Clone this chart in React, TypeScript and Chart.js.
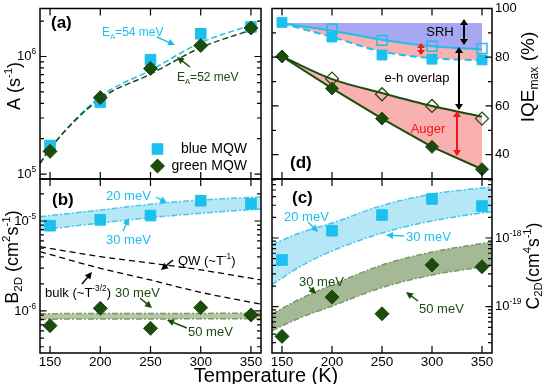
import React, { useEffect, useRef } from 'react';
import { Chart, registerables } from 'chart.js';
Chart.register(...registerables);

// ---------- data ----------
const TEMPS = [150, 200, 250, 300, 350];
const X_TICKS = [150, 200, 250, 300, 350];
const X_TICK_LABELS = ['150', '200', '250', '300', '350'];

// (a) A coefficient
const A_BLUE = [1.75e5, 4.1e5, 9.4e5, 1.56e6, 1.78e6];
const A_GREEN = [1.56e5, 4.47e5, 7.9e5, 1.24e6, 1.75e6];
const A_FIT_T = [140, 150, 200, 250, 300, 350];
const A_FIT_BLUE = [1.23e5, 1.65e5, 4.55e5, 7.64e5, 1.31e6, 1.85e6];
const A_FIT_GREEN = [1.23e5, 1.65e5, 4.38e5, 7.08e5, 1.19e6, 1.68e6];
const A_MAJOR = [1e5, 1e6];
const A_MAJOR_LABELS = ['10^{5}', '10^{6}'];
const A_MINOR = [2e5, 3e5, 4e5, 5e5, 6e5, 7e5, 8e5, 9e5, 2e6];

// (b) B2D
const B_BLUE = [8.87e-6, 1.03e-5, 1.15e-5, 1.68e-5, 1.55e-5];
const B_GREEN = [6.87e-7, 1.07e-6, 6.41e-7, 1.09e-6, 9.03e-7];
const B_BAND_T = [140, 200, 250, 300, 360];
const B_BLUE_20 = [1.117e-5, 1.325e-5, 1.535e-5, 1.71e-5, 1.85e-5];
const B_BLUE_30 = [7.94e-6, 9.5e-6, 1.09e-5, 1.22e-5, 1.36e-5];
const B_GREEN_30 = [9.3e-7, 9.4e-7, 9.4e-7, 9.4e-7, 9.45e-7];
const B_GREEN_50 = [8.1e-7, 8.15e-7, 8.15e-7, 8.2e-7, 8.2e-7];
const B_LINE_T = [140, 200, 250, 300, 360];
const B_QW = [5.18e-6, 4.02e-6, 3.41e-6, 2.86e-6, 2.21e-6];
const B_BULK = [4.56e-6, 2.98e-6, 2.21e-6, 1.61e-6, 1.19e-6];
const B_MAJOR = [1e-6, 1e-5];
const B_MAJOR_LABELS = ['10^{-6}', '10^{-5}'];
const B_MINOR = [4e-7, 5e-7, 6e-7, 7e-7, 8e-7, 9e-7, 2e-6, 3e-6, 4e-6, 5e-6, 6e-6, 7e-6, 8e-6, 9e-6, 2e-5];

// (c) C2D
const C_BLUE = [4.79e-19, 1.277e-18, 2.16e-18, 3.7e-18, 2.92e-18];
const C_GREEN = [3.7e-20, 1.38e-19, 7.9e-20, 4.05e-19, 3.82e-19];
const C_BAND_T = [140, 170, 200, 250, 300, 350, 360];
const C_BLUE_20 = [8.0e-19, 1.22e-18, 1.65e-18, 2.97e-18, 4.37e-18, 5.34e-18, 5.52e-18];
const C_BLUE_30 = [2.1e-19, 3.98e-19, 6.47e-19, 1.18e-18, 1.77e-18, 2.31e-18, 2.39e-18];
const C_GREEN_30 = [7.83e-20, 1.34e-19, 2.07e-19, 4.05e-19, 6.25e-19, 8.32e-19, 8.75e-19];
const C_GREEN_50 = [4.51e-20, 7.08e-20, 1.02e-19, 1.9e-19, 2.89e-19, 3.79e-19, 3.98e-19];
const C_MAJOR = [1e-19, 1e-18];
const C_MAJOR_LABELS = ['10^{-19}', '10^{-18}'];
const C_MINOR = [3e-20, 4e-20, 5e-20, 6e-20, 7e-20, 8e-20, 9e-20, 2e-19, 3e-19, 4e-19, 5e-19, 6e-19, 7e-19, 8e-19, 9e-19, 2e-18, 3e-18, 4e-18, 5e-18, 6e-18, 7e-18];

// (d) IQE max
const D_BLUE_FILLED = [94.3, 88.3, 80.9, 79.2, 78.9];
const D_OPEN_T = [200, 250, 300, 350];
const D_BLUE_OPEN = [91.6, 86.9, 84.5, 83.6];
const D_BLUE_SOLID = [93.9, 90.9, 87.2, 84.5, 83.2];
const D_BLUE_DASHED = [93.9, 88.3, 82.3, 79.6, 78.7];
const D_SRH_TOP = [94, 94, 94, 94, 94];
const D_GREEN_FILLED = [80.3, 67.2, 54.8, 43.2, 34.0];
const D_GREEN_OPEN = [71.2, 64.8, 60.0, 54.8];
const D_GREEN_UPPER = [80.3, 71.0, 65.3, 60.0, 55.6];
const D_MAJOR = [40, 60, 80, 100];
const D_MAJOR_LABELS = ['40', '60', '80', '100'];
const D_MINOR = [50, 70, 90];

// ---------- styles ----------
const W = 542;
const H = 384;
const FONT = '"Liberation Sans", Arial, Helvetica, sans-serif';
const CYAN = '#1cc0ee';
const GREEN = '#1b4c0e';
const CYAN_BAND = '#b6e7f6';
const CYAN_EDGE = '#45c6ec';
const GREEN_BAND_B = '#b4c8a4';
const GREEN_BAND_C = '#a6b996';
const GREEN_EDGE = '#7a9868';
const LAVENDER = '#a8a8f2';
const PINK = '#f8b0b1';
const RED = '#f01818';
const TICK_FONT = 13;

const pts = (xs: number[], ys: number[]) => xs.map((x, i) => ({ x, y: ys[i] }));

function parseRich(s: string) {
  const segs: { t: string; k: number }[] = [];
  const re = /([\^_])\{([^}]*)\}/g;
  let last = 0;
  let m: RegExpExecArray | null;
  while ((m = re.exec(s))) {
    if (m.index > last) segs.push({ t: s.slice(last, m.index), k: 0 });
    segs.push({ t: m[2], k: m[1] === '^' ? 1 : -1 });
    last = re.lastIndex;
  }
  if (last < s.length) segs.push({ t: s.slice(last), k: 0 });
  return segs;
}

function drawRich(ctx: CanvasRenderingContext2D, s: string, x: number, y: number, o: any) {
  const size = o.size || 13;
  const segs = parseRich(s);
  const fontFor = (k: number) => `${o.bold ? 'bold ' : ''}${k ? size * 0.64 : size}px ${FONT}`;
  let total = 0;
  const widths = segs.map((sg) => {
    ctx.font = fontFor(sg.k);
    const w = ctx.measureText(sg.t).width;
    total += w;
    return w;
  });
  ctx.save();
  ctx.translate(x, y);
  if (o.rotate) ctx.rotate((o.rotate * Math.PI) / 180);
  const align = o.align || 'left';
  let cx = align === 'left' ? 0 : align === 'right' ? -total : -total / 2;
  ctx.textBaseline = 'middle';
  ctx.textAlign = 'left';
  ctx.fillStyle = o.color || '#000';
  segs.forEach((sg, i) => {
    ctx.font = fontFor(sg.k);
    const dy = sg.k === 1 ? -size * 0.36 : sg.k === -1 ? size * 0.3 : 0;
    ctx.fillText(sg.t, cx, dy);
    cx += widths[i];
  });
  ctx.restore();
}

function drawArrow(ctx: CanvasRenderingContext2D, a: any) {
  const { x1, y1, x2, y2 } = a;
  const color = a.color || '#000';
  const hl = a.hl || 7;
  const hw = a.hw || 3.5;
  const ang = Math.atan2(y2 - y1, x2 - x1);
  const head = (x: number, y: number, an: number) => {
    ctx.beginPath();
    ctx.moveTo(x, y);
    ctx.lineTo(x - hl * Math.cos(an) + hw * Math.sin(an), y - hl * Math.sin(an) - hw * Math.cos(an));
    ctx.lineTo(x - hl * Math.cos(an) - hw * Math.sin(an), y - hl * Math.sin(an) + hw * Math.cos(an));
    ctx.closePath();
    ctx.fill();
  };
  ctx.save();
  ctx.strokeStyle = color;
  ctx.fillStyle = color;
  ctx.lineWidth = a.lw || 1.4;
  ctx.setLineDash([]);
  const sx = a.double ? x1 + (hl - 1) * Math.cos(ang) : x1;
  const sy = a.double ? y1 + (hl - 1) * Math.sin(ang) : y1;
  ctx.beginPath();
  ctx.moveTo(sx, sy);
  ctx.lineTo(x2 - (hl - 1) * Math.cos(ang), y2 - (hl - 1) * Math.sin(ang));
  ctx.stroke();
  head(x2, y2, ang);
  if (a.double) head(x1, y1, ang + Math.PI);
  ctx.restore();
}

function decorPlugin(spec: any) {
  return {
    id: 'decor' + spec.name,
    afterDraw(chart: any) {
      const ctx: CanvasRenderingContext2D = chart.ctx;
      const { left, right, top, bottom } = chart.chartArea;
      const xs = chart.scales.x;
      const ys = chart.scales.y;
      ctx.save();
      ctx.setLineDash([]);
      ctx.strokeStyle = '#000';
      ctx.lineWidth = 1.5;
      ctx.strokeRect(left, top, right - left, bottom - top);
      ctx.lineWidth = 1.2;
      ctx.beginPath();
      X_TICKS.forEach((v) => {
        const px = xs.getPixelForValue(v);
        ctx.moveTo(px, bottom);
        ctx.lineTo(px, bottom - 7);
        ctx.moveTo(px, top);
        ctx.lineTo(px, top + 7);
      });
      spec.major.forEach((v: number) => {
        const py = ys.getPixelForValue(v);
        ctx.moveTo(left, py);
        ctx.lineTo(left + 6.5, py);
        ctx.moveTo(right, py);
        ctx.lineTo(right - 6.5, py);
      });
      spec.minor.forEach((v: number) => {
        const py = ys.getPixelForValue(v);
        ctx.moveTo(left, py);
        ctx.lineTo(left + 4, py);
        ctx.moveTo(right, py);
        ctx.lineTo(right - 4, py);
      });
      ctx.stroke();
      if (spec.xLabels) {
        X_TICKS.forEach((v, i) => {
          drawRich(ctx, X_TICK_LABELS[i], xs.getPixelForValue(v), 362, { size: TICK_FONT + 0.5, align: 'center' });
        });
      }
      spec.major.forEach((v: number, i: number) => {
        const py = ys.getPixelForValue(v);
        if (spec.labelSide === 'left') {
          drawRich(ctx, spec.majorLabels[i], left - 4, py, { size: TICK_FONT, align: 'right' });
        } else {
          drawRich(ctx, spec.majorLabels[i], right + 3, py, { size: TICK_FONT, align: 'left' });
        }
      });
      (spec.markers || []).forEach((m: any) => {
        ctx.fillStyle = m.color;
        ctx.beginPath();
        if (m.shape === 'rect') {
          ctx.rect(m.x - m.s, m.y - m.s, 2 * m.s, 2 * m.s);
        } else {
          ctx.moveTo(m.x, m.y - m.s);
          ctx.lineTo(m.x + m.s, m.y);
          ctx.lineTo(m.x, m.y + m.s);
          ctx.lineTo(m.x - m.s, m.y);
          ctx.closePath();
        }
        ctx.fill();
      });
      (spec.arrows || []).forEach((a: any) => drawArrow(ctx, a));
      (spec.texts || []).forEach((t: any) => drawRich(ctx, t.s, t.x, t.y, t));
      ctx.restore();
    },
  };
}

function makeChart(canvas: HTMLCanvasElement, spec: any) {
  const box = spec.box;
  return new Chart(canvas, {
    type: 'scatter',
    data: { datasets: spec.datasets },
    options: {
      animation: false,
      responsive: false,
      maintainAspectRatio: false,
      events: [],
      layout: { padding: { left: box.l, top: box.t, right: W - box.r, bottom: H - box.b } },
      scales: {
        x: { type: 'linear', min: 140, max: 360, display: false },
        y: { type: spec.yType, min: spec.yMin, max: spec.yMax, display: false },
      },
      plugins: {
        legend: { display: false },
        tooltip: { enabled: false },
        filler: { drawTime: 'beforeDatasetsDraw' },
      } as any,
    },
    plugins: [decorPlugin(spec) as any],
  } as any);
}

const squares = (data: any, r = 7.5) => ({
  data, showLine: false, pointStyle: 'rect', pointRadius: r,
  pointBackgroundColor: CYAN, pointBorderColor: CYAN, pointBorderWidth: 1,
});
const diamonds = (data: any, r = 7) => ({
  data, showLine: false, pointStyle: 'rectRot', pointRadius: r,
  pointBackgroundColor: GREEN, pointBorderColor: GREEN, pointBorderWidth: 1,
});
const line = (data: any, color: string, extra: any = {}) => ({
  data, showLine: true, pointRadius: 0, borderColor: color, borderWidth: 1.5,
  cubicInterpolationMode: 'monotone', fill: false, ...extra,
});

const DASHDOT = [6, 2, 2, 2];

function specs() {
  const a = {
    name: 'a', box: { l: 40, t: 5, r: 261, b: 179 }, yType: 'logarithmic', yMin: 9.08e4, yMax: 2.56e6,
    major: A_MAJOR, majorLabels: A_MAJOR_LABELS, minor: A_MINOR, labelSide: 'left', xLabels: false,
    datasets: [
      diamonds(pts(TEMPS, A_GREEN)),
      squares(pts(TEMPS, A_BLUE)),
      line(pts(A_FIT_T, A_FIT_GREEN), GREEN, { borderDash: [6, 3] }),
      line(pts(A_FIT_T, A_FIT_BLUE), CYAN, { borderDash: [6, 3] }),
    ],
    markers: [
      { shape: 'rect', x: 157.5, y: 149, s: 5.8, color: CYAN },
      { shape: 'diamond', x: 157.5, y: 166, s: 7.5, color: GREEN },
    ],
    arrows: [
      { x1: 157, y1: 37, x2: 175, y2: 45, color: CYAN },
      { x1: 190, y1: 67, x2: 177, y2: 57, color: GREEN },
    ],
    texts: [
      { s: '(a)', x: 51, y: 23, size: 17, bold: true },
      { s: 'E_{A}=54 meV', x: 102, y: 33, size: 12, color: CYAN },
      { s: 'E_{A}=52 meV', x: 177, y: 78, size: 12, color: GREEN },
      { s: 'blue MQW', x: 247, y: 149, size: 14, align: 'right' },
      { s: 'green MQW', x: 247, y: 166, size: 14, align: 'right' },
      { s: 'A (s^{-1})', x: 15, y: 86, size: 18, align: 'center', rotate: -90 },
    ],
  };
  const b = {
    name: 'b', box: { l: 40, t: 179, r: 261, b: 353 }, yType: 'logarithmic', yMin: 3.41e-7, yMax: 2.93e-5,
    major: B_MAJOR, majorLabels: B_MAJOR_LABELS, minor: B_MINOR, labelSide: 'left', xLabels: true,
    datasets: [
      diamonds(pts(TEMPS, B_GREEN)),
      squares(pts(TEMPS, B_BLUE)),
      line(pts(B_LINE_T, B_QW), '#000', { borderDash: [6, 4], borderWidth: 1.3 }),
      line(pts(B_LINE_T, B_BULK), '#000', { borderDash: [6, 4], borderWidth: 1.3 }),
      line(pts(B_BAND_T, B_BLUE_20), CYAN_EDGE, { borderDash: DASHDOT, fill: '+1', backgroundColor: CYAN_BAND }),
      line(pts(B_BAND_T, B_BLUE_30), CYAN_EDGE, { borderDash: DASHDOT }),
      line(pts(B_BAND_T, B_GREEN_30), GREEN_EDGE, { borderDash: DASHDOT, fill: '+1', backgroundColor: GREEN_BAND_B }),
      line(pts(B_BAND_T, B_GREEN_50), GREEN_EDGE, { borderDash: DASHDOT }),
    ],
    arrows: [
      { x1: 156, y1: 197, x2: 167, y2: 203, color: CYAN },
      { x1: 123, y1: 231, x2: 129, y2: 218, color: CYAN },
      { x1: 173, y1: 260, x2: 161, y2: 270 },
      { x1: 82, y1: 284, x2: 92, y2: 272 },
      { x1: 140, y1: 298, x2: 152, y2: 308, color: GREEN },
      { x1: 187, y1: 328, x2: 167, y2: 320, color: GREEN },
    ],
    texts: [
      { s: '(b)', x: 52, y: 200, size: 17, bold: true },
      { s: '20 meV', x: 106, y: 196, size: 13, color: CYAN },
      { s: '30 meV', x: 106, y: 240, size: 13, color: CYAN },
      { s: 'QW (~T^{-1})', x: 178, y: 261, size: 13 },
      { s: 'bulk (~T^{-3/2})', x: 45, y: 293, size: 13 },
      { s: '30 meV', x: 115, y: 293, size: 13, color: GREEN },
      { s: '50 meV', x: 188, y: 332, size: 13, color: GREEN },
      { s: 'B_{2D} (cm^{2}s^{-1})', x: 13, y: 257, size: 18, align: 'center', rotate: -90 },
      { s: 'Temperature (K)', x: 266, y: 376, size: 20, align: 'center' },
    ],
  };
  const c = {
    name: 'c', box: { l: 272, t: 179, r: 492, b: 353 }, yType: 'logarithmic', yMin: 2.12e-20, yMax: 7.23e-18,
    major: C_MAJOR, majorLabels: C_MAJOR_LABELS, minor: C_MINOR, labelSide: 'right', xLabels: true,
    datasets: [
      diamonds(pts(TEMPS, C_GREEN)),
      squares(pts(TEMPS, C_BLUE)),
      line(pts(C_BAND_T, C_BLUE_20), CYAN_EDGE, { borderDash: DASHDOT, fill: '+1', backgroundColor: CYAN_BAND }),
      line(pts(C_BAND_T, C_BLUE_30), CYAN_EDGE, { borderDash: DASHDOT }),
      line(pts(C_BAND_T, C_GREEN_30), GREEN_EDGE, { borderDash: DASHDOT, fill: '+1', backgroundColor: GREEN_BAND_C }),
      line(pts(C_BAND_T, C_GREEN_50), GREEN_EDGE, { borderDash: DASHDOT }),
    ],
    arrows: [
      { x1: 308, y1: 222, x2: 318, y2: 232, color: CYAN },
      { x1: 404, y1: 236, x2: 386, y2: 235, color: CYAN },
      { x1: 309, y1: 287, x2: 316, y2: 294, color: GREEN },
      { x1: 418, y1: 301, x2: 406, y2: 292, color: GREEN },
    ],
    texts: [
      { s: '(c)', x: 292, y: 198, size: 17, bold: true },
      { s: '20 meV', x: 284, y: 217, size: 13, color: CYAN },
      { s: '30 meV', x: 406, y: 237, size: 13, color: CYAN },
      { s: '30 meV', x: 299, y: 282, size: 13, color: GREEN },
      { s: '50 meV', x: 419, y: 309, size: 13, color: GREEN },
      { s: 'C_{2D}(cm^{4}s^{-1})', x: 534, y: 266, size: 17.5, align: 'center', rotate: -90 },
    ],
  };
  const d = {
    name: 'd', box: { l: 272, t: 5, r: 492, b: 179 }, yType: 'linear', yMin: 30, yMax: 100,
    major: D_MAJOR, majorLabels: D_MAJOR_LABELS, minor: D_MINOR, labelSide: 'right', xLabels: false,
    datasets: [
      squares(pts(TEMPS, D_BLUE_FILLED), 7),
      { ...squares(pts(D_OPEN_T, D_BLUE_OPEN), 7), pointBackgroundColor: 'rgba(0,0,0,0)', pointBorderWidth: 1.5 },
      { ...diamonds(pts(TEMPS, D_GREEN_FILLED), 6.5), showLine: true, borderColor: GREEN, borderWidth: 2, fill: false },
      { ...diamonds(pts(D_OPEN_T, D_GREEN_OPEN), 6.5), pointBackgroundColor: 'rgba(0,0,0,0)', pointBorderWidth: 1.3 },
      line(pts(TEMPS, D_GREEN_UPPER), GREEN, { borderWidth: 2, fill: { target: 2, above: PINK, below: PINK } }),
      line(pts(TEMPS, D_BLUE_SOLID), CYAN, { borderWidth: 2, fill: { target: 6, above: PINK, below: PINK } }),
      line(pts(TEMPS, D_BLUE_DASHED), CYAN, { borderWidth: 2, borderDash: [7, 4] }),
      line(pts(TEMPS, D_SRH_TOP), 'rgba(0,0,0,0)', { borderWidth: 0, fill: { target: 5, above: LAVENDER, below: LAVENDER } }),
    ],
    arrows: [
      { x1: 464, y1: 19, x2: 464, y2: 45, double: true, hl: 6, hw: 4, lw: 2 },
      { x1: 421, y1: 43, x2: 421, y2: 55, double: true, hl: 5, hw: 4, lw: 2, color: RED },
      { x1: 459, y1: 47, x2: 459, y2: 110, double: true, hl: 6, hw: 4, lw: 2 },
      { x1: 457, y1: 111, x2: 457, y2: 156, double: true, hl: 6, hw: 4, lw: 2, color: RED },
    ],
    texts: [
      { s: '(d)', x: 290, y: 163, size: 17, bold: true },
      { s: 'SRH', x: 440, y: 32, size: 13, align: 'center' },
      { s: 'e-h overlap', x: 417, y: 78, size: 13, align: 'center' },
      { s: 'Auger', x: 428, y: 129, size: 13, align: 'center', color: RED },
      { s: 'IQE_{max} (%)', x: 529, y: 77, size: 19, align: 'center', rotate: -90 },
    ],
  };
  return [a, b, c, d];
}

export default function App() {
  const refs = [useRef<HTMLCanvasElement>(null), useRef<HTMLCanvasElement>(null), useRef<HTMLCanvasElement>(null), useRef<HTMLCanvasElement>(null)];
  useEffect(() => {
    const ss = specs();
    const charts = ss.map((s, i) => makeChart(refs[i].current as HTMLCanvasElement, s));
    return () => charts.forEach((c) => c.destroy());
  }, []);
  return (
    <div style={{ position: 'fixed', left: 0, top: 0, width: W, height: H, background: '#fff' }}>
      {refs.map((r, i) => (
        <canvas key={i} ref={r} width={W} height={H} style={{ position: 'absolute', left: 0, top: 0, width: W, height: H }} />
      ))}
    </div>
  );
}
